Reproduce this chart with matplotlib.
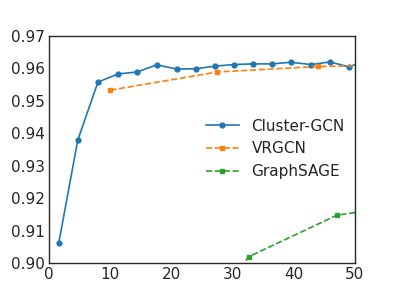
import matplotlib
matplotlib.use("Agg")
import matplotlib.pyplot as plt

cluster_x = [1.6, 4.7, 8.0, 11.3, 14.4, 17.6, 20.9, 24.0, 27.1, 30.2, 33.3, 36.4, 39.5, 42.8, 45.9, 49.0, 52.1]
cluster_y = [0.9062, 0.9379, 0.9558, 0.9583, 0.9589, 0.9611, 0.9598, 0.9599, 0.9607, 0.9612, 0.9614, 0.9614, 0.9619, 0.9612, 0.9620, 0.9605, 0.9625]
vrgcn_x = [10.0, 27.5, 44.0, 61.0]
vrgcn_y = [0.9533, 0.9589, 0.9606, 0.9612]
sage_x = [17.5, 32.6, 47.0, 62.0]
sage_y = [0.861, 0.9019, 0.9147, 0.919]
labels = ["Cluster-GCN", "VRGCN", "GraphSAGE"]

tc = "#262626"
plt.rcParams['font.family'] = ['DejaVu Sans']
fig = plt.figure(figsize=(3.95, 2.96), dpi=100)
ax = fig.add_axes([49/395, 1-263/296, 306/395, 227/296])
ax.plot(cluster_x, cluster_y, '-o', color='#1f77b4', lw=1.2, ms=3.5, label=labels[0])
ax.plot(vrgcn_x, vrgcn_y, '--s', color='#ff7f0e', lw=1.2, ms=3.5, label=labels[1])
ax.plot(sage_x, sage_y, '--s', color='#2ca02c', lw=1.2, ms=3.5, label=labels[2])
ax.set_xlim(0, 50)
ax.set_ylim(0.90, 0.97)
ax.set_xticks([0, 10, 20, 30, 40, 50])
ax.set_yticks([0.90, 0.91, 0.92, 0.93, 0.94, 0.95, 0.96, 0.97])
ax.tick_params(length=0, labelsize=11, colors=tc, pad=3)
for s in ax.spines.values():
    s.set_color(tc)
    s.set_linewidth(1.0)
leg = ax.legend(loc='center left', bbox_to_anchor=(0.467, 0.503), frameon=False, fontsize=11,
                handlelength=2.2, labelspacing=0.5)
for t in leg.get_texts():
    t.set_color(tc)
fig.savefig("out.png", dpi=100)
